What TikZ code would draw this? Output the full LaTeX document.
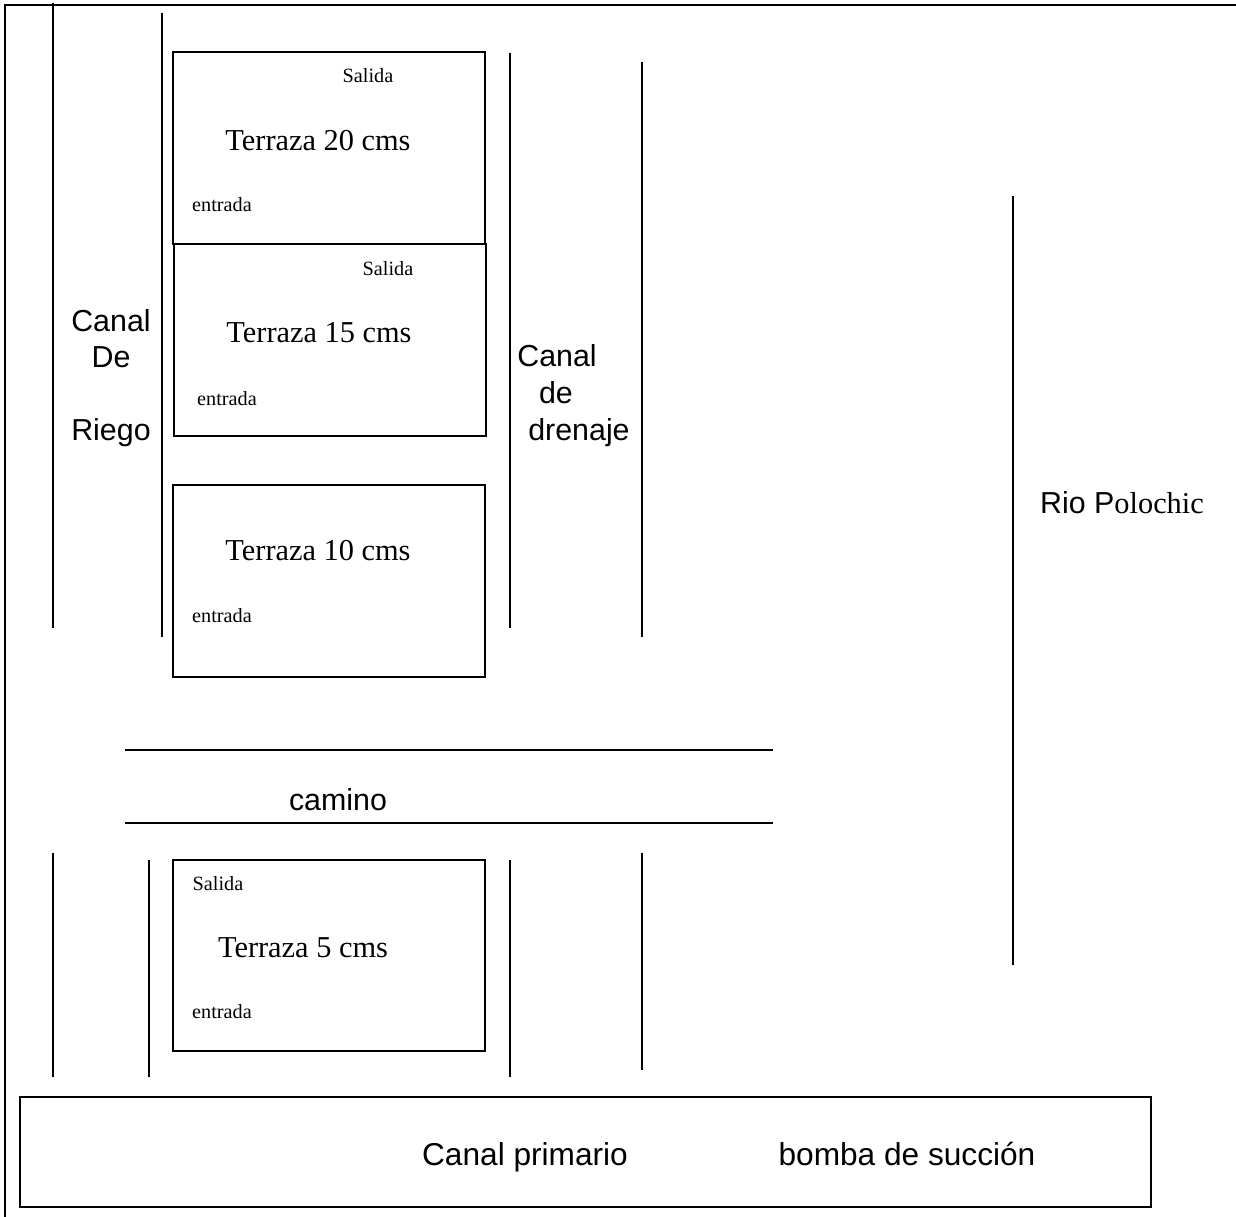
\documentclass[tikz,border=0pt]{standalone}
\usepackage{fontspec}
\setmainfont{Liberation Serif}
\newfontfamily\arialfont{Liberation Sans}

\begin{document}
\begin{tikzpicture}[x=0.01389cm,y=-0.01389cm,line width=0.8pt,
        chico/.style={font=\fontsize{8}{10}\selectfont,anchor=base},
        terraza/.style={font=\fontsize{12}{14}\selectfont,anchor=base},
        etiq/.style={font=\arialfont\fontsize{12}{14}\selectfont,anchor=base},
        grande/.style={font=\arialfont\fontsize{12.5}{15}\selectfont,anchor=base}]
                \useasboundingbox (0,0) rectangle (1236,1217);
                % marco
                \draw[line width=1pt] (5,1217) -- (5,5) -- (1236,5);

                % canales de arriba
                \draw (53,3) -- (53,628);
                \draw (162,13) -- (162,637);
                \draw (510,53) -- (510,628);
                \draw (642,62) -- (642,637);
                % rio
                \draw (1013,196) -- (1013,965);
                % camino
                \draw (125,750) -- (773,750);
                \draw (125,823) -- (773,823);
                % canales de abajo
                \draw (53,853) -- (53,1077);
                \draw (149,860) -- (149,1077);
                \draw (510,860) -- (510,1077);
                \draw (642,853) -- (642,1070);

                % terrazas
                \draw (173,52) rectangle (485,244);
                \draw (174,244) rectangle (486,436);
                \draw (173,485) rectangle (485,677);
                \draw (173,860) rectangle (485,1051);
                % canal primario
                \draw (20,1097) rectangle (1151,1207);

                \node[chico] (sal20) at (368,82) {Salida};
                \node[terraza] (ter20) at (318,150) {Terraza 20 cms};
                \node[chico] (ent20) at (222,211) {entrada};

                \node[chico] (sal15) at (388,275) {Salida};
                \node[terraza] (ter15) at (319,342) {Terraza 15 cms};
                \node[chico] (ent15) at (227,405) {entrada};

                \node[terraza] (ter10) at (318,560) {Terraza 10 cms};
                \node[chico] (ent10) at (222,622) {entrada};

                \node[chico] (sal5) at (218,890) {Salida};
                \node[terraza] (ter5) at (303,957) {Terraza 5 cms};
                \node[chico] (ent5) at (222,1018) {entrada};

                \node[etiq] (riego1) at (111,331) {Canal};
                \node[etiq] (riego2) at (111,367) {De};
                \node[etiq] (riego3) at (111,440) {Riego};

                \node[etiq] (dren1) at (557,366) {Canal};
                \node[etiq] (dren2) at (556,403) {de};
                \node[etiq] (dren3) at (579,440) {drenaje};

                \node[terraza] (rio) at (1122,513) {{\arialfont Rio P}olochic};
                \node[etiq] (camino) at (338,810) {camino};

                \node[grande] (primario) at (525,1165) {Canal primario};
                \node[grande] (bomba) at (907,1165) {bomba de succión};
\end{tikzpicture}
\end{document}
